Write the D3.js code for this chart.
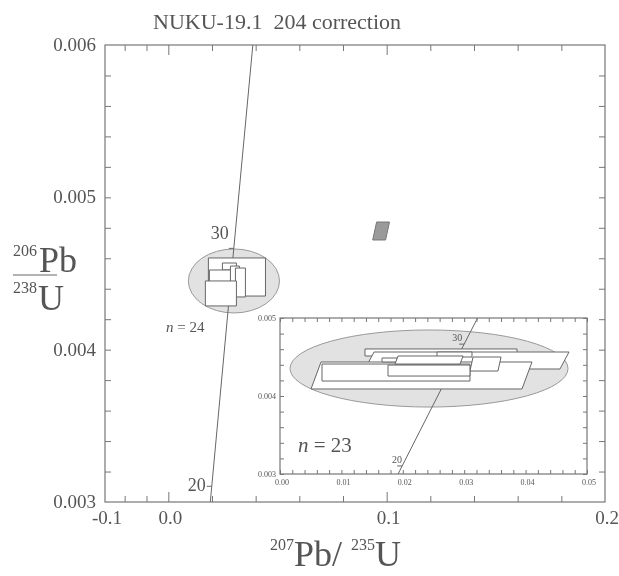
<!DOCTYPE html>
<html>
<head>
<meta charset="utf-8">
<script src="https://cdn.jsdelivr.net/npm/d3@7"></script>
<style>
body { margin: 0; background: #fff; }
svg { will-change: transform; }
text { font-family: "Liberation Serif", "Times New Roman", serif; fill: #555; }
</style>
</head>
<body>
<svg id="chart" width="619" height="576"></svg>
<script>
// main plot, 207Pb/235U vs 206Pb/238U
var X_DOMAIN = [-0.029, 0.2];
var Y_DOMAIN = [0.003, 0.006];
var xMinorTicks = [-0.02, -0.01, 0.02, 0.04, 0.06, 0.08, 0.12, 0.14, 0.16, 0.18];
var xMajorTicks = [0.0, 0.1];
var xTickLabels = ["-0.1", "0.0", "0.1", "0.2"];
var xTickLabelAt = [-0.029, 0.0, 0.1, 0.2];
var yTicks = [0.0032, 0.0034, 0.0036, 0.0038, 0.004, 0.0042, 0.0044, 0.0046, 0.0048,
              0.005, 0.0052, 0.0054, 0.0056, 0.0058];
var yTickLabels = ["0.003", "0.004", "0.005", "0.006"];
var yTickLabelAt = [0.003, 0.004, 0.005, 0.006];

// concordia and age marks
var concordiaX = [0.01923, 0.02999, 0.03871];
var concordiaY = [0.0030, 0.004665, 0.0060];
var ageLabels = ["20", "30"];
var ageX = [0.01989, 0.02999];
var ageY = [0.003103, 0.004665];

// n = 24 ellipse and boxes [x0, x1, y0, y1, shear]
var mainEllipse = [0.03005, 0.004451, 0.02087, 0.00021];
var mainBoxes = [
	[0.01835, 0.0445, 0.004352, 0.004602, 0.0],
	[0.02477, 0.03119, 0.004523, 0.004569, 0.0],
	[0.01881, 0.02936, 0.004444, 0.004523, 0.0],
	[0.02844, 0.03257, 0.004392, 0.004549, 0.0],
	[0.03073, 0.03532, 0.004346, 0.004536, 0.0],
	[0.01697, 0.03119, 0.004287, 0.004451, 0.0]
];
var greyBox = [0.0936, 0.0995, 0.00472, 0.004838, 0.0018];

// inset, n = 23
var INSET_X_DOMAIN = [0.0, 0.05];
var INSET_Y_DOMAIN = [0.003, 0.005];
var insetXTicks = d3.range(0, 0.0501, 0.002);
var insetYTicks = d3.range(0.003, 0.00501, 0.0002);
var insetXLabels = ["0.00", "0.01", "0.02", "0.03", "0.04", "0.05"];
var insetXLabelAt = [0.0, 0.01, 0.02, 0.03, 0.04, 0.05];
var insetYLabels = ["0.003", "0.004", "0.005"];
var insetYLabelAt = [0.003, 0.004, 0.005];
var insetEllipse = [0.02427, 0.0043526, 0.02264, 0.000494];
var insetBoxes = [
	[0.01384, 0.0386, 0.004513, 0.004603, 0.0],
	[0.01384, 0.0456, 0.004346, 0.004564, 0.00147],
	[0.00505, 0.03941, 0.00409, 0.004436, 0.00163],
	[0.00684, 0.03094, 0.004192, 0.00441, 0.0],
	[0.02557, 0.03127, 0.0045, 0.004564, 0.0],
	[0.01661, 0.01906, 0.004436, 0.004487, 0.0],
	[0.01873, 0.02932, 0.00441, 0.004513, 0.0005],
	[0.03094, 0.0355, 0.00432, 0.0045, 0.0005],
	[0.01759, 0.03094, 0.004256, 0.004397, 0.0]
];

var LINE = "#777";
var svg = d3.select("#chart");

var x = d3.scaleLinear().domain(X_DOMAIN).range([105, 605]);
var y = d3.scaleLinear().domain(Y_DOMAIN).range([502, 45]);
var ix = d3.scaleLinear().domain(INSET_X_DOMAIN).range([280, 587]);
var iy = d3.scaleLinear().domain(INSET_Y_DOMAIN).range([474, 318]);

function boxPoints(b, sx, sy) {
	return [
		[sx(b[0]), sy(b[2])],
		[sx(b[1]), sy(b[2])],
		[sx(b[1] + b[4]), sy(b[3])],
		[sx(b[0] + b[4]), sy(b[3])]
	].map(function(p) { return p.join(","); }).join(" ");
}

function tickAxis(g, axis, values, size) {
	g.call(axis.tickValues(values).tickSize(-size).tickSizeOuter(0).tickFormat(""));
	g.select(".domain").remove();
	g.selectAll("line").attr("stroke", LINE);
}

// draws ellipse, concordia, boxes and frame for one panel
function panel(sx, sy, clipId, ell, boxes, ageSize, ageOffsets) {
	var x0 = sx.range()[0], x1 = sx.range()[1], y0 = sy.range()[1], y1 = sy.range()[0];
	svg.append("clipPath").attr("id", clipId)
		.append("rect").attr("x", x0).attr("y", y0).attr("width", x1 - x0).attr("height", y1 - y0);
	var g = svg.append("g").attr("clip-path", "url(#" + clipId + ")");

	g.append("ellipse")
		.attr("cx", sx(ell[0])).attr("cy", sy(ell[1]))
		.attr("rx", sx(ell[0] + ell[2]) - sx(ell[0]))
		.attr("ry", sy(ell[1]) - sy(ell[1] + ell[3]))
		.attr("fill", "#e2e2e2").attr("stroke", "#999").attr("stroke-width", 1);

	var line = d3.line().x(function(d) { return sx(d[0]); }).y(function(d) { return sy(d[1]); })
		.curve(d3.curveMonotoneY);
	g.append("path").datum(d3.zip(concordiaX, concordiaY))
		.attr("d", line).attr("fill", "none").attr("stroke", "#666").attr("stroke-width", 1);

	ageX.forEach(function(ax, i) {
		g.append("line")
			.attr("x1", sx(ax) - 5).attr("x2", sx(ax))
			.attr("y1", sy(ageY[i])).attr("y2", sy(ageY[i]))
			.attr("stroke", "#666");
		g.append("text")
			.attr("x", sx(ax) + ageOffsets[i][0]).attr("y", sy(ageY[i]) + ageOffsets[i][1])
			.attr("text-anchor", "end").attr("font-size", ageSize)
			.text(ageLabels[i]);
	});

	g.selectAll("polygon.box").data(boxes).enter().append("polygon")
		.attr("class", "box")
		.attr("points", function(d) { return boxPoints(d, sx, sy); })
		.attr("fill", "#fff").attr("stroke", "#666").attr("stroke-width", 1);

	svg.append("rect").attr("x", x0).attr("y", y0).attr("width", x1 - x0).attr("height", y1 - y0)
		.attr("fill", "none").attr("stroke", LINE).attr("stroke-width", 1.2);
}

// ---- main panel
panel(x, y, "clipMain", mainEllipse, mainBoxes, 18, [[-6, 5], [-5, -9]]);

svg.append("polygon")
	.attr("points", boxPoints(greyBox, x, y))
	.attr("fill", "#9a9a9a").attr("stroke", "#777").attr("stroke-linejoin", "round");

tickAxis(svg.append("g").attr("transform", "translate(0,502)"), d3.axisBottom(x), xMinorTicks, 6);
tickAxis(svg.append("g").attr("transform", "translate(0,502)"), d3.axisBottom(x), xMajorTicks, 10);
tickAxis(svg.append("g").attr("transform", "translate(0,45)"), d3.axisTop(x), xMinorTicks, 6);
tickAxis(svg.append("g").attr("transform", "translate(0,45)"), d3.axisTop(x), xMajorTicks, 10);
tickAxis(svg.append("g").attr("transform", "translate(105,0)"), d3.axisLeft(y), yTicks, 6);
tickAxis(svg.append("g").attr("transform", "translate(605,0)"), d3.axisRight(y), yTicks, 6);

svg.selectAll("text.xlab").data(xTickLabels).enter().append("text")
	.attr("class", "xlab")
	.attr("x", function(d, i) { return x(xTickLabelAt[i]) + 2; })
	.attr("y", 524)
	.attr("text-anchor", "middle").attr("font-size", 19)
	.text(function(d) { return d; });

svg.selectAll("text.ylab").data(yTickLabels).enter().append("text")
	.attr("class", "ylab")
	.attr("x", 96)
	.attr("y", function(d, i) { return y(yTickLabelAt[i]) + 6; })
	.attr("text-anchor", "end").attr("font-size", 19)
	.text(function(d) { return d; });

svg.append("text").attr("x", 166).attr("y", 332)
	.attr("font-size", 15)
	.html('<tspan font-style="italic">n</tspan> = 24');

// title and axis titles
svg.append("text").attr("x", 153).attr("y", 29).attr("font-size", 22)
	.attr("xml:space", "preserve")
	.text("NUKU-19.1  204 correction");

var yt = svg.append("g");
yt.append("text").attr("x", 13).attr("y", 256).attr("font-size", 16).text("206");
yt.append("text").attr("x", 39).attr("y", 272).attr("font-size", 36).text("Pb");
yt.append("line").attr("x1", 13).attr("x2", 57).attr("y1", 275).attr("y2", 275)
	.attr("stroke", "#666").attr("stroke-width", 1);
yt.append("text").attr("x", 13).attr("y", 293).attr("font-size", 16).text("238");
yt.append("text").attr("x", 38).attr("y", 310).attr("font-size", 36).text("U");

var xt = svg.append("text").attr("x", 270).attr("y", 566);
xt.append("tspan").attr("font-size", 16).attr("dy", -16).text("207");
xt.append("tspan").attr("font-size", 36).attr("dy", 16).text("Pb/ ");
xt.append("tspan").attr("font-size", 16).attr("dy", -16).text("235");
xt.append("tspan").attr("font-size", 36).attr("dy", 16).text("U");

// ---- inset
svg.append("rect").attr("x", 280).attr("y", 318).attr("width", 307).attr("height", 156)
	.attr("fill", "#fff");
panel(ix, iy, "clipInset", insetEllipse, insetBoxes, 10, [[0, -3], [-2, -3]]);

tickAxis(svg.append("g").attr("transform", "translate(0,474)"), d3.axisBottom(ix), insetXTicks, 4);
tickAxis(svg.append("g").attr("transform", "translate(0,318)"), d3.axisTop(ix), insetXTicks, 4);
tickAxis(svg.append("g").attr("transform", "translate(280,0)"), d3.axisLeft(iy), insetYTicks, 4);
tickAxis(svg.append("g").attr("transform", "translate(587,0)"), d3.axisRight(iy), insetYTicks, 4);

svg.selectAll("text.ixlab").data(insetXLabels).enter().append("text")
	.attr("class", "ixlab")
	.attr("x", function(d, i) { return ix(insetXLabelAt[i]) + 2; })
	.attr("y", 485)
	.attr("text-anchor", "middle").attr("font-size", 8)
	.text(function(d) { return d; });

svg.selectAll("text.iylab").data(insetYLabels).enter().append("text")
	.attr("class", "iylab")
	.attr("x", 276)
	.attr("y", function(d, i) { return iy(insetYLabelAt[i]) + 3; })
	.attr("text-anchor", "end").attr("font-size", 8)
	.text(function(d) { return d; });

svg.append("text").attr("x", 298).attr("y", 452)
	.attr("font-size", 21)
	.html('<tspan font-style="italic">n</tspan> = 23');
</script>
</body>
</html>
